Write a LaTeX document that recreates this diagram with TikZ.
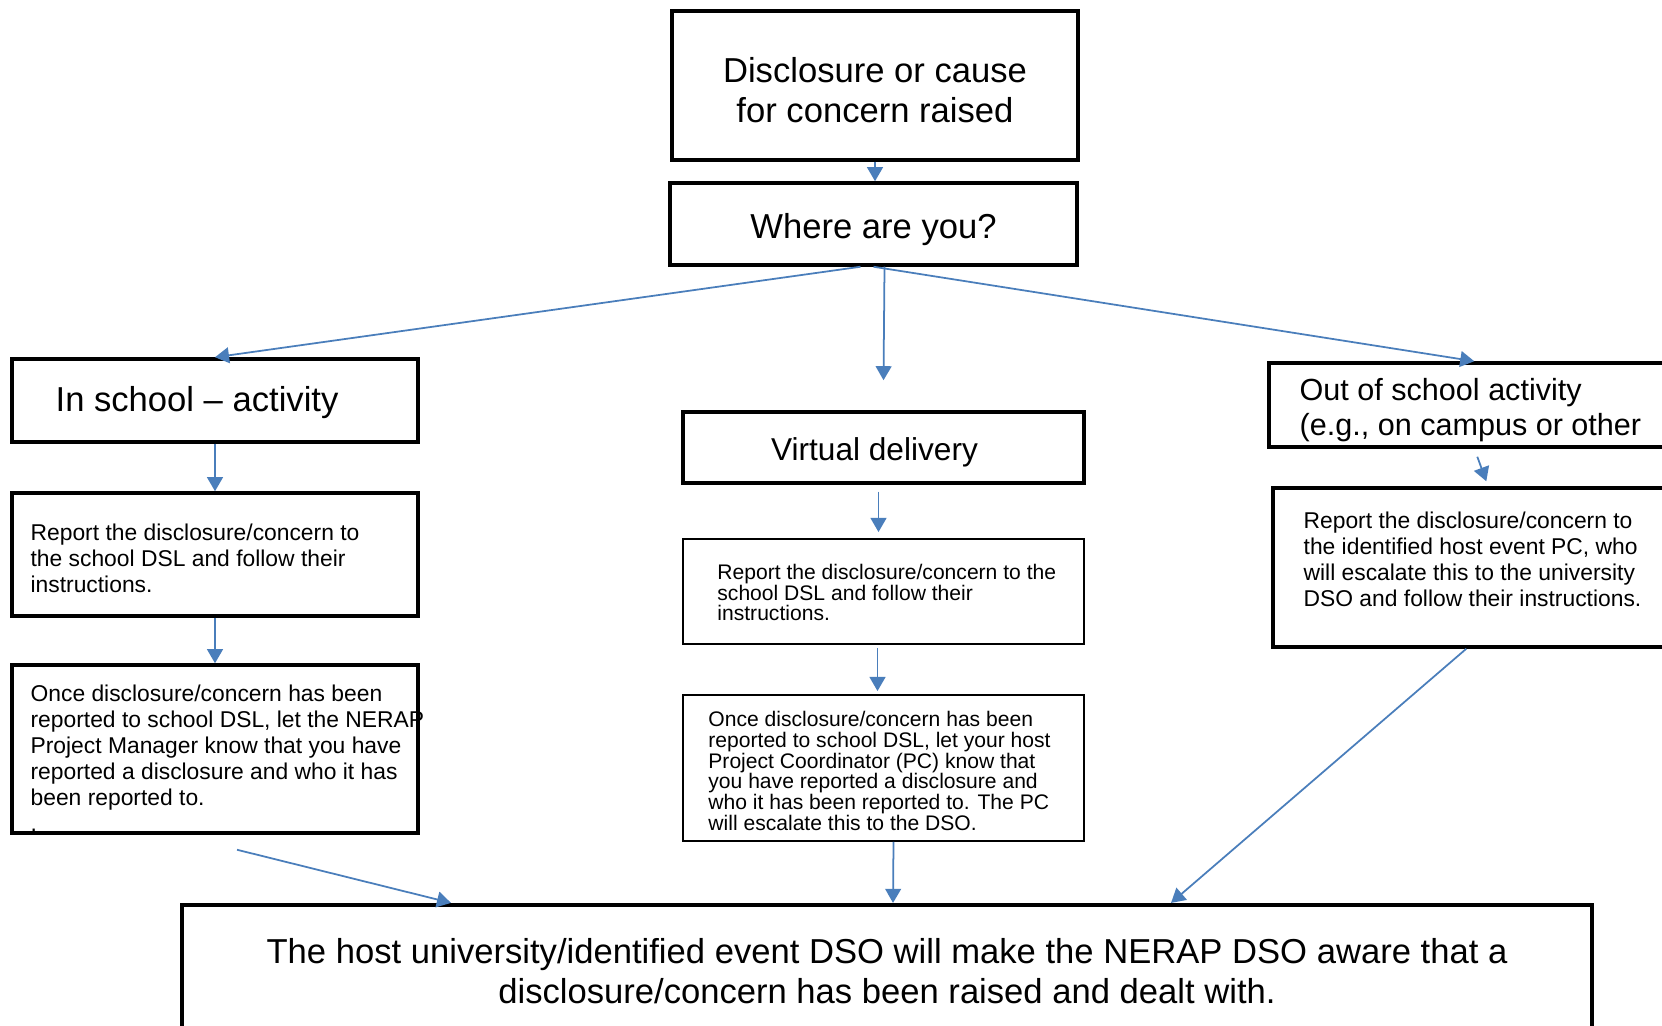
\documentclass[tikz,border=0pt]{standalone}
\usepackage{fontspec}
\setmainfont{Liberation Sans}
\usetikzlibrary{arrows.meta,calc}
\definecolor{flowblue}{RGB}{74,126,187}
\tikzset{
  box/.style={draw, line width=2pt, inner sep=0pt},        % heavy frame
  thinbox/.style={draw, line width=1.1pt, inner sep=0pt},  % virtual column steps
  txt/.style={inner sep=0pt},
  bigTxt/.style={txt, font=\fontsize{19.7}{22.8}\selectfont, align=center},
  stepTxt/.style={txt, anchor=west, font=\fontsize{13}{14.8}\selectfont, align=left},
  smallTxt/.style={txt, anchor=west, font=\fontsize{12}{11.9}\selectfont, align=left},
  flowArrow/.style={-{Triangle[width=9pt,length=8pt]}, flowblue, line width=1pt}
}
\begin{document}
\begin{tikzpicture}[x=0.02cm, y=-0.02cm]
  \useasboundingbox (0,0) rectangle (1662,1026);
  \clip (0,0) rectangle (1662,1026);

  % top of the flow
  \node[box, minimum width=8.12cm, minimum height=2.98cm] (cause) at (875,85.5) {};
  \node[bigTxt] (causeTxt) at ($(cause.center)+(0,5)$) {Disclosure or cause\\for concern raised};
  \node[box, minimum width=8.14cm, minimum height=1.64cm] (where) at (873.5,224) {};
  \node[bigTxt] (whereTxt) at ($(where.center)+(0,5.5)$) {Where are you?};

  % in school
  \node[box, minimum width=8.12cm, minimum height=1.66cm] (insch) at (215,400.5) {};
  \node[bigTxt, anchor=west] (inschTxt) at ($(insch.west)+(45,2.5)$) {In school -- activity};
  \node[box, minimum width=8.12cm, minimum height=2.46cm] (rep1) at (215,554.5) {};
  \node[stepTxt] (rep1Txt) at ($(rep1.west)+(20,3.5)$) {Report the disclosure/concern to\\the school DSL and follow their\\instructions.};
  \node[box, minimum width=8.12cm, minimum height=3.36cm] (once1) at (215,749) {};
  \node[stepTxt] (once1Txt) at ($(once1.west)+(20,9)$) {Once disclosure/concern has been\\reported to school DSL, let the NERAP\\Project Manager know that you have\\reported a disclosure and who it has\\been reported to.\\.};

  % virtual
  \node[box, minimum width=8.02cm, minimum height=1.42cm] (virt) at (883.5,447.5) {};
  \node[txt, font=\fontsize{18}{21}\selectfont] (virtTxt) at ($(virt.center)+(-9,4.5)$) {Virtual delivery};
  \node[thinbox, minimum width=8.02cm, minimum height=2.1cm] (rep2) at (883.5,591.5) {};
  \node[smallTxt] (rep2Txt) at ($(rep2.west)+(35,1)$) {Report the disclosure/concern to the\\school DSL and follow their\\instructions.};
  \node[thinbox, minimum width=8.02cm, minimum height=2.92cm] (once2) at (883.5,768) {};
  \node[smallTxt] (once2Txt) at ($(once2.west)+(26,3)$) {Once disclosure/concern has been\\reported to school DSL, let your host\\Project Coordinator (PC) know that\\you have reported a disclosure and\\who it has been reported to. The PC\\will escalate this to the DSO.};

  % out of school
  \node[box, minimum width=8.62cm, minimum height=1.68cm] (out) at (1484.5,405) {};
  \node[txt, anchor=west, font=\fontsize{17.4}{20}\selectfont, align=left] (outTxt) at ($(out.west)+(32,5)$) {Out of school activity\\(e.g., on campus or other};
  \node[box, minimum width=8.54cm, minimum height=3.18cm] (rep3) at (1486.5,567.5) {};
  \node[stepTxt] (rep3Txt) at ($(rep3.west)+(32,-8.5)$) {Report the disclosure/concern to\\the identified host event PC, who\\will escalate this to the university\\DSO and follow their instructions.};

  % end
  \node[box, line width=2.4pt, minimum width=28.2cm, minimum height=2.5cm] (final) at (887,967.5) {};
  \node[bigTxt] (finalTxt) at ($(final.center)+(0,3.3)$) {The host university/identified event DSO will make the NERAP DSO aware that a\\disclosure/concern has been raised and dealt with.};

  \draw[flowArrow] (cause.south) -- (cause.south |- where.north);
  \draw[flowArrow] ($(where.south)+(-13,0)$) -- (insch.north);
  \draw[flowArrow] ($(where.south)+(11,0)$) -- ($(virt.north)+(0,-30)$);
  \draw[flowArrow] (where.south) -- ($(out.north west)+(207,0)$);
  \draw[flowArrow] (insch.south) -- (rep1.north);
  \draw[flowArrow] (rep1.south) -- (once1.north);
  \draw[flowArrow] ($(virt.south)+(-5,7)$) -- ($(rep2.north)+(-5,-6)$);
  \draw[flowArrow] ($(rep2.south)+(-6,3)$) -- ($(once2.north)+(-6,-3)$);
  \draw[flowArrow] ($(once2.south)+(10,0)$) -- ($(final.north)+(6,0)$);
  \draw[flowArrow] ($(out.south west)+(210,8)$) -- ($(rep3.north west)+(215,-5)$);
  \draw[flowArrow] ($(rep3.south west)+(195,0)$) -- ($(final.north west)+(991,0)$);
  \draw[flowArrow] ($(once1.south)+(22,15)$) -- ($(final.north west)+(271,0)$);
\end{tikzpicture}
\end{document}
